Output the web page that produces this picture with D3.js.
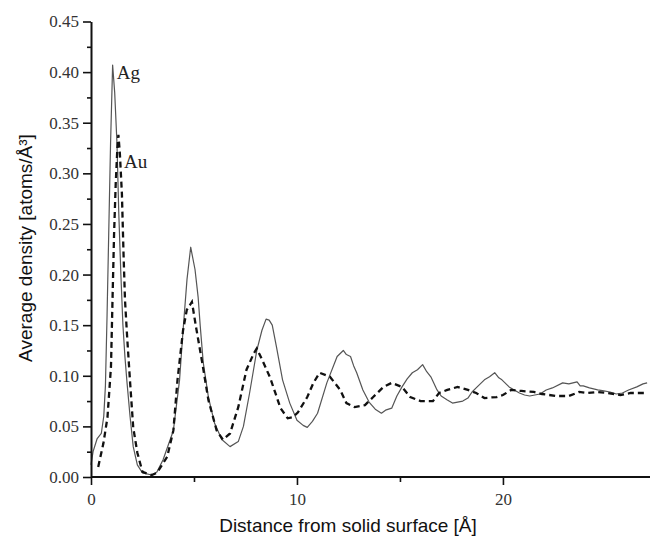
<!DOCTYPE html>
<html>
<head>
<meta charset="utf-8">
<script src="https://cdn.jsdelivr.net/npm/d3@7"></script>
<style>
  html, body { margin: 0; padding: 0; background: #fff; }
  svg { display: block; }
</style>
</head>
<body>
<svg id="chart" width="650" height="536"></svg>
<script>
// ---- data ----
const agDist = [0.0,0.1,0.3,0.5,0.62,0.7,0.78,0.86,0.95,1.05,1.15,1.26,1.35,1.45,1.55,1.65,1.75,1.9,2.05,2.25,2.5,2.95,3.2,3.5,4.0,4.3,4.47,4.66,4.84,5.05,5.2,5.3,5.45,5.7,6.0,6.35,6.75,7.15,7.4,7.7,8.05,8.3,8.5,8.65,8.8,9.0,9.3,9.65,10.0,10.3,10.5,10.75,11.0,11.45,11.95,12.1,12.25,12.4,12.6,12.75,12.9,13.2,13.5,13.8,14.1,14.3,14.6,14.85,15.1,15.35,15.6,15.85,16.1,16.3,16.5,16.8,17.0,17.3,17.55,17.8,18.05,18.3,18.5,18.7,19.1,19.35,19.6,19.8,19.95,20.3,20.8,21.05,21.3,21.8,22.1,22.4,22.9,23.2,23.6,23.75,23.9,24.2,24.6,24.9,25.2,25.5,25.8,26.1,26.5,26.8,27.0];
const agDensity = [0.012,0.025,0.038,0.043,0.06,0.09,0.16,0.24,0.33,0.407,0.38,0.33,0.26,0.2,0.15,0.118,0.093,0.059,0.03,0.012,0.004,0.002,0.005,0.017,0.046,0.096,0.145,0.195,0.227,0.205,0.178,0.15,0.113,0.079,0.053,0.037,0.030,0.035,0.05,0.083,0.125,0.145,0.156,0.155,0.150,0.129,0.096,0.073,0.056,0.051,0.049,0.055,0.063,0.093,0.119,0.122,0.125,0.121,0.119,0.11,0.103,0.086,0.074,0.067,0.063,0.066,0.068,0.08,0.089,0.097,0.103,0.106,0.111,0.104,0.099,0.086,0.08,0.076,0.073,0.074,0.075,0.078,0.084,0.088,0.096,0.099,0.103,0.098,0.096,0.089,0.083,0.081,0.080,0.082,0.086,0.088,0.093,0.092,0.094,0.09,0.090,0.088,0.086,0.085,0.084,0.082,0.083,0.086,0.089,0.092,0.093];

const auDist = [0.35,0.6,0.8,0.97,1.05,1.12,1.2,1.28,1.33,1.4,1.5,1.58,1.65,1.75,1.9,2.05,2.25,2.5,2.95,3.2,3.7,4.0,4.2,4.47,4.65,4.9,5.1,5.4,5.7,6.1,6.4,6.75,7.15,7.55,7.9,8.05,8.35,8.7,8.95,9.2,9.55,9.8,10.05,10.5,10.8,11.1,11.6,12.1,12.4,12.8,13.3,13.7,14.2,14.6,15.1,15.5,16.0,16.6,16.9,17.3,17.8,18.3,18.7,19.1,19.7,20.0,20.4,20.9,21.5,21.9,22.6,23.2,23.7,24.1,24.6,25.1,25.7,26.2,26.7,27.0];
const auDensity = [0.010,0.033,0.059,0.109,0.18,0.24,0.29,0.325,0.338,0.32,0.28,0.22,0.175,0.14,0.093,0.049,0.024,0.005,0.002,0.004,0.020,0.046,0.096,0.145,0.165,0.173,0.148,0.113,0.076,0.046,0.037,0.043,0.069,0.106,0.122,0.127,0.114,0.098,0.083,0.068,0.058,0.059,0.064,0.079,0.093,0.103,0.099,0.086,0.073,0.069,0.071,0.079,0.089,0.093,0.089,0.079,0.075,0.075,0.083,0.086,0.089,0.086,0.083,0.078,0.079,0.081,0.086,0.085,0.084,0.082,0.080,0.080,0.084,0.083,0.084,0.083,0.081,0.083,0.083,0.083];

const xMajorTicks = [0, 10, 20];
const xMinorTicks = [5, 15];
const yMajorTicks = [0, 0.05, 0.10, 0.15, 0.20, 0.25, 0.30, 0.35, 0.40, 0.45];
const yMinorTicks = [0.025, 0.075, 0.125, 0.175, 0.225, 0.275, 0.325, 0.375, 0.425];
const seriesLabels = [{name: "Ag", x: 1.25, y: 0.393}, {name: "Au", x: 1.6, y: 0.305}];
const xTitle = "Distance from solid surface [Å]";
const yTitle = "Average density [atoms/Å³]";

// ---- drawing ----
const svg = d3.select("#chart");
const x = d3.scaleLinear().domain([0, 27.14]).range([91, 650]);
const y = d3.scaleLinear().domain([0, 0.45]).range([477, 21.5]);

const serif = "'Liberation Serif', 'Times New Roman', serif";
const sans = "'Liberation Sans', Arial, sans-serif";

// lines
const agData = agDist.map((d, i) => [d, agDensity[i]]);
const auData = auDist.map((d, i) => [d, auDensity[i]]);
const line = d3.line().x(d => x(d[0])).y(d => y(d[1])).curve(d3.curveLinear);

svg.append("path").datum(agData).attr("d", line)
  .attr("fill", "none").attr("stroke", "#555").attr("stroke-width", 1.2)
  .attr("stroke-linejoin", "round");
svg.append("path").datum(auData).attr("d", line)
  .attr("fill", "none").attr("stroke", "#111").attr("stroke-width", 2.3)
  .attr("stroke-dasharray", "6,4");

// y axis
const yAxis = d3.axisLeft(y).tickValues(yMajorTicks).tickFormat(d3.format(".2f"))
  .tickSize(8).tickPadding(4).tickSizeOuter(0);
const gy = svg.append("g").attr("transform", "translate(91,0)").call(yAxis);
gy.append("g").call(d3.axisLeft(y).tickValues(yMinorTicks).tickFormat("").tickSize(4).tickSizeOuter(0))
  .select(".domain").remove();

// x axis
const xAxis = d3.axisBottom(x).tickValues(xMajorTicks).tickFormat(d3.format("d"))
  .tickSize(8).tickPadding(8).tickSizeOuter(0);
const gx = svg.append("g").attr("transform", "translate(0,477)").call(xAxis);
gx.append("g").call(d3.axisBottom(x).tickValues(xMinorTicks).tickFormat("").tickSize(5).tickSizeOuter(0))
  .select(".domain").remove();

svg.selectAll(".domain").attr("stroke", "#111").attr("stroke-width", 2);
svg.selectAll(".tick line").attr("stroke", "#111").attr("stroke-width", 1.6);
gx.attr("font-family", null).attr("font-size", null);
gy.attr("font-family", null).attr("font-size", null);
svg.selectAll(".tick text")
  .style("font-family", serif).style("font-size", "17px").style("fill", "#333");

// extend x axis line to the right edge
gx.select(".domain").attr("d", `M${x(0)},0H650`);

// series labels
svg.selectAll(".slabel").data(seriesLabels).join("text")
  .attr("class", "slabel")
  .attr("x", d => x(d.x)).attr("y", d => y(d.y))
  .style("font-family", serif).style("font-size", "19px").style("fill", "#222")
  .text(d => d.name);

// axis titles
svg.append("text").attr("x", 348).attr("y", 532).attr("text-anchor", "middle")
  .style("font-family", sans).style("font-size", "19px").style("fill", "#111").text(xTitle);
svg.append("text").attr("transform", "translate(32,248) rotate(-90)").attr("text-anchor", "middle")
  .style("font-family", sans).style("font-size", "19px").style("fill", "#111").text(yTitle);
</script>
</body>
</html>
